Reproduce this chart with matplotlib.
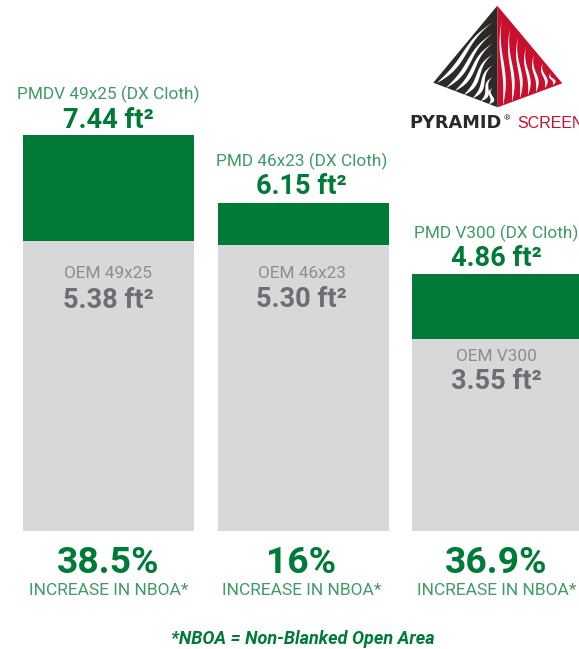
import numpy as np
import matplotlib
matplotlib.use("Agg")
import matplotlib.pyplot as plt
from matplotlib.patches import Polygon

plt.rcParams['font.family'] = ['Roboto', 'DejaVu Sans']

# ---- data ----
pmd_names = ["PMDV 49x25 (DX Cloth)", "PMD 46x23 (DX Cloth)", "PMD V300 (DX Cloth)"]
pmd_labels = ["7.44 ft²", "6.15 ft²", "4.86 ft²"]
pmd_heights = [7.35, 6.09, 4.77]     # bar heights
oem_names = ["OEM 49x25", "OEM 46x23", "OEM V300"]
oem_labels = ["5.38 ft²", "5.30 ft²", "3.55 ft²"]
oem_heights = [5.38, 5.30, 3.56]
increase = ["38.5%", "16%", "36.9%"]
increase_text = "INCREASE IN NBOA*"
footnote = "*NBOA = Non-Blanked Open Area"
positions = [0, 1, 2]

GREEN = "#007A37"
GREY = "#D7D8DA"
W, H = 579, 649
fig = plt.figure(figsize=(W / 100, H / 100), dpi=100, facecolor="white")

# chart axes: baseline at y=531px, 53.9 px per unit, 194.5 px per bar step
ax = fig.add_axes([0, (H - 531) / H, 1, 531 / H])
ax.set_xlim(-108.5 / 194.5, (W - 108.5) / 194.5)
ax.set_ylim(0, 531 / 53.9)
ax.axis("off")
bw = 171 / 194.5
ax.bar(positions, oem_heights, width=bw, color=GREY, linewidth=0)
ax.bar(positions, np.array(pmd_heights) - np.array(oem_heights), bottom=oem_heights,
       width=bw, color=GREEN, linewidth=0)

def px(v):
    return v * 72 / 100

nudge = [0, -1.5, -1]
name_up = [36, 37, 36]
value_up = [7, 9, 8]
oem_name_down = [37, 33, 22]
oem_value_down = [67, 62, 50]
for i in positions:
    x = positions[i]
    d = nudge[i]
    common = dict(textcoords="offset points", ha="center", va="baseline", annotation_clip=False)
    ax.annotate(pmd_names[i], (x, pmd_heights[i]), xytext=(px(d), px(name_up[i])),
                fontsize=12.4, fontweight="normal", color="#3F9A66", **common)
    ax.annotate(pmd_labels[i], (x, pmd_heights[i]), xytext=(px(d), px(value_up[i])),
                fontsize=19.6, fontweight="bold", color=GREEN, **common)
    ax.annotate(oem_names[i], (x, oem_heights[i]), xytext=(px(d), px(-oem_name_down[i])),
                fontsize=12.4, fontweight="normal", color="#8C8D90", **common)
    ax.annotate(oem_labels[i], (x, oem_heights[i]), xytext=(px(d), px(-oem_value_down[i])),
                fontsize=19.6, fontweight="bold", color="#6D6E71", **common)
    ax.annotate(increase[i], (x, 0), xytext=(px(d), px(-42)),
                fontsize=26.8, fontweight="bold", color=GREEN, **common)
    ax.annotate(increase_text, (x, 0), xytext=(px(d), px(-64)),
                fontsize=12.5, fontweight="normal", color="#3F9A66", **common)

# overlay in pixel coordinates: footnote and logo
ov = fig.add_axes([0, 0, 1, 1], facecolor="none")
ov.set_xlim(0, W)
ov.set_ylim(H, 0)
ov.axis("off")
ov.text(303, 644, footnote, ha="center", va="baseline", fontsize=13, fontweight="bold",
        fontstyle="italic", color=GREEN)

# logo
apex, left, right, bottom = (497.3, 5.7), (433.3, 82.7), (562.3, 83.3), (497.7, 107.3)
ov.add_patch(Polygon([apex, left, bottom], closed=True, fc="#2B2A29", ec="none"))
ov.add_patch(Polygon([apex, right, bottom], closed=True, fc="#C8102E", ec="none"))

def stripe(p0, p1, bend, wid, n=40):
    p0, p1 = np.array(p0, float), np.array(p1, float)
    t = np.linspace(0, 1, n)
    d = p1 - p0
    nrm = np.array([-d[1], d[0]]) / np.hypot(*d)
    c = p0[None] + t[:, None] * d[None] + (bend * np.sin(2 * np.pi * t))[:, None] * nrm[None]
    w = wid * np.sin(np.pi * t ** 1.5) ** 0.8
    a = c + (w / 2)[:, None] * nrm[None]
    b = c - (w / 2)[:, None] * nrm[None]
    ov.add_patch(Polygon(np.vstack([a, b[::-1]]), closed=True, fc="white", ec="none"))

left_stripes = [((493, 22), (437, 83)), ((493, 33), (446, 88)), ((493, 43), (455, 91)),
                ((493, 54), (464, 95)), ((493, 65), (473, 98)), ((493, 77), (481, 101)), ((493, 88), (489, 104))]
for a, b in left_stripes:
    stripe(a, b, 2.4, 4.0)
right_stripes = [((501.7, 20), (503, 105)), ((510, 28), (512, 102)), ((518, 37), (520, 98)),
                 ((526, 47), (528, 95)), ((534, 55), (536, 92)), ((543, 63), (545, 88)), ((551, 73), (553, 85))]
for a, b in right_stripes:
    stripe(a, b, 1.8, 3.0)

ov.text(409, 128, "PYRAMID", ha="left", va="baseline", fontsize=12.8, fontweight="bold",
        family=["DejaVu Sans"], color="#2B2A29")
ov.text(503.5, 120, "®", ha="left", va="baseline", fontsize=6, color="#2B2A29")
ov.text(517, 128, "SCREENS", ha="left", va="baseline", fontsize=11.5,
        family=["Liberation Sans", "DejaVu Sans"], color="#C8102E")

fig.savefig("out.png", dpi=100)
